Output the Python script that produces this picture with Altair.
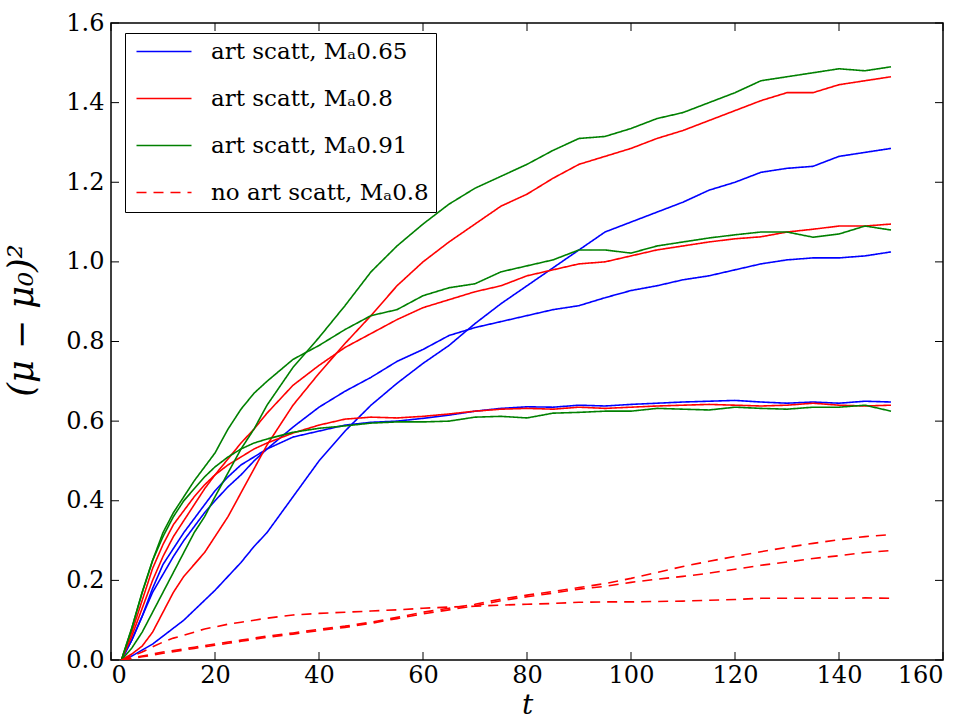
import altair as alt
import pandas as pd

# shared time grid
T = [2, 4, 6, 8, 10, 12, 14, 16, 18, 20, 22.5, 25, 27.5, 30, 35, 40, 45, 50, 55, 60,
     65, 70, 75, 80, 85, 90, 95, 100, 105, 110, 115, 120, 125, 130, 135, 140, 145, 150]

blue_a = [0, 0.05, 0.11, 0.18, 0.24, 0.28, 0.32, 0.355, 0.39, 0.425, 0.46, 0.49, 0.51, 0.53,
          0.56, 0.575, 0.59, 0.597, 0.60, 0.607, 0.615, 0.625, 0.632, 0.636, 0.635, 0.64,
          0.638, 0.642, 0.645, 0.648, 0.65, 0.652, 0.648, 0.645, 0.648, 0.645, 0.65, 0.648]
blue_b = [0, 0.05, 0.11, 0.17, 0.215, 0.26, 0.30, 0.335, 0.37, 0.40, 0.435, 0.465, 0.50, 0.53,
          0.585, 0.635, 0.675, 0.71, 0.75, 0.78, 0.815, 0.835, 0.85, 0.865, 0.88, 0.89,
          0.91, 0.928, 0.94, 0.955, 0.965, 0.98, 0.995, 1.005, 1.01, 1.01, 1.015, 1.025]
blue_c = [0, 0.01, 0.025, 0.04, 0.06, 0.08, 0.10, 0.125, 0.15, 0.175, 0.21, 0.245, 0.285, 0.32,
          0.41, 0.50, 0.575, 0.64, 0.695, 0.745, 0.79, 0.845, 0.895, 0.94, 0.985, 1.03,
          1.075, 1.10, 1.125, 1.15, 1.18, 1.20, 1.225, 1.235, 1.24, 1.265, 1.275, 1.285]

red_a = [0, 0.07, 0.15, 0.23, 0.29, 0.34, 0.375, 0.41, 0.44, 0.465, 0.49, 0.51, 0.53, 0.545,
         0.57, 0.59, 0.605, 0.61, 0.608, 0.612, 0.618, 0.625, 0.63, 0.632, 0.63, 0.635,
         0.632, 0.635, 0.638, 0.64, 0.642, 0.64, 0.638, 0.64, 0.645, 0.64, 0.638, 0.64]
red_b = [0, 0.06, 0.13, 0.20, 0.26, 0.31, 0.35, 0.39, 0.43, 0.465, 0.505, 0.545, 0.58, 0.62,
         0.69, 0.74, 0.785, 0.82, 0.855, 0.885, 0.905, 0.925, 0.94, 0.965, 0.98, 0.995,
         1.0, 1.015, 1.03, 1.04, 1.05, 1.058, 1.063, 1.075, 1.082, 1.09, 1.09, 1.095]
red_c = [0, 0.015, 0.035, 0.07, 0.12, 0.17, 0.21, 0.24, 0.27, 0.31, 0.36, 0.42, 0.48, 0.54,
         0.64, 0.72, 0.795, 0.865, 0.94, 1.0, 1.05, 1.095, 1.14, 1.17, 1.21, 1.245,
         1.265, 1.285, 1.31, 1.33, 1.355, 1.38, 1.405, 1.425, 1.425, 1.445, 1.455, 1.465]

green_a = [0, 0.08, 0.17, 0.25, 0.31, 0.36, 0.40, 0.43, 0.46, 0.485, 0.51, 0.53, 0.545, 0.555,
           0.572, 0.582, 0.588, 0.595, 0.598, 0.598, 0.60, 0.61, 0.612, 0.608, 0.62, 0.622,
           0.625, 0.625, 0.632, 0.63, 0.628, 0.635, 0.632, 0.63, 0.635, 0.635, 0.64, 0.625]
green_b = [0, 0.08, 0.17, 0.25, 0.32, 0.37, 0.41, 0.45, 0.485, 0.52, 0.58, 0.63, 0.67, 0.70,
           0.755, 0.79, 0.83, 0.865, 0.88, 0.915, 0.935, 0.945, 0.975, 0.99, 1.005, 1.03,
           1.03, 1.022, 1.04, 1.05, 1.06, 1.068, 1.075, 1.075, 1.062, 1.07, 1.09, 1.08]
green_c = [0, 0.03, 0.07, 0.12, 0.17, 0.22, 0.27, 0.32, 0.36, 0.41, 0.47, 0.53, 0.58, 0.64,
           0.735, 0.81, 0.89, 0.975, 1.04, 1.095, 1.145, 1.185, 1.215, 1.245, 1.28, 1.31,
           1.315, 1.335, 1.36, 1.375, 1.40, 1.425, 1.455, 1.465, 1.475, 1.485, 1.48, 1.49]

nodash_a = [0, 0.01, 0.02, 0.033, 0.045, 0.055, 0.062, 0.07, 0.078, 0.083, 0.09, 0.095, 0.10, 0.105,
            0.113, 0.117, 0.12, 0.123, 0.126, 0.13, 0.133, 0.135, 0.138, 0.14, 0.142, 0.145,
            0.146, 0.146, 0.147, 0.148, 0.15, 0.152, 0.155, 0.155, 0.155, 0.155, 0.156, 0.155]
nodash_b = [0, 0.005, 0.01, 0.015, 0.02, 0.024, 0.028, 0.032, 0.036, 0.04, 0.045, 0.05, 0.055, 0.06,
            0.068, 0.077, 0.085, 0.095, 0.107, 0.12, 0.13, 0.14, 0.153, 0.163, 0.172, 0.182,
            0.192, 0.205, 0.22, 0.235, 0.248, 0.26, 0.272, 0.283, 0.293, 0.302, 0.31, 0.315]
nodash_c = [0, 0.004, 0.008, 0.012, 0.017, 0.021, 0.025, 0.029, 0.033, 0.037, 0.042, 0.047, 0.052, 0.057,
            0.065, 0.074, 0.082, 0.092, 0.104, 0.116, 0.126, 0.136, 0.149, 0.159, 0.168, 0.178,
            0.185, 0.195, 0.203, 0.21, 0.218, 0.228, 0.238, 0.246, 0.255, 0.262, 0.27, 0.275]

labels = ["art scatt, Mₐ0.65", "art scatt, Mₐ0.8", "art scatt, Mₐ0.91", "no art scatt, Mₐ0.8"]
colors = ["#0000ff", "#ff0000", "#008000", "#ff0000"]
dashes = [[1, 0], [1, 0], [1, 0], [10, 7]]

x_ticks = [0, 20, 40, 60, 80, 100, 120, 140, 160]
y_ticks = [0.0, 0.2, 0.4, 0.6, 0.8, 1.0, 1.2, 1.4, 1.6]

curves = [
    ("ba", labels[0], blue_a), ("bb", labels[0], blue_b), ("bc", labels[0], blue_c),
    ("ra", labels[1], red_a), ("rb", labels[1], red_b), ("rc", labels[1], red_c),
    ("ga", labels[2], green_a), ("gb", labels[2], green_b), ("gc", labels[2], green_c),
    ("da", labels[3], nodash_a), ("db", labels[3], nodash_b), ("dc", labels[3], nodash_c),
]
rows = []
for cid, ser, vals in curves:
    for t, v in zip(T, vals):
        rows.append({"t": t, "value": v, "curve": cid, "series": ser})
df = pd.DataFrame(rows)

W, H = 832, 637
FONT = "DejaVu Serif"

xs = alt.X("t:Q", scale=alt.Scale(domain=[0, 160], nice=False, zero=False),
           axis=alt.Axis(values=x_ticks, format="d", title="t", titleFontStyle="italic",
                         titleFontSize=28, titleBaseline="bottom", titleY=59,
                         labelPadding=3))
ys = alt.Y("value:Q", scale=alt.Scale(domain=[0, 1.6], nice=False),
           axis=alt.Axis(values=y_ticks, format=".1f", title="(μ − μ₀)²",
                         titleFontStyle="italic", titleFontSize=35,
                         titleX=-72, titleY=297, labelPadding=7))

lines = alt.Chart(df).mark_line(strokeWidth=1.6, clip=True).encode(
    x=xs, y=ys,
    color=alt.Color("series:N", scale=alt.Scale(domain=labels, range=colors),
                    legend=alt.Legend(title=None)),
    strokeDash=alt.StrokeDash("series:N", scale=alt.Scale(domain=labels, range=dashes),
                              legend=alt.Legend(title=None)),
    detail="curve:N",
)

xt = pd.DataFrame({"t": x_ticks})
yt = pd.DataFrame({"value": y_ticks})
tick_x_bottom = alt.Chart(xt).mark_rule(color="black", strokeWidth=1).encode(
    x=alt.X("t:Q"), y=alt.value(H), y2=alt.value(H - 8))
tick_x_top = alt.Chart(xt).mark_rule(color="black", strokeWidth=1).encode(
    x=alt.X("t:Q"), y=alt.value(0), y2=alt.value(8))
tick_y_left = alt.Chart(yt).mark_rule(color="black", strokeWidth=1).encode(
    y=alt.Y("value:Q"), x=alt.value(0), x2=alt.value(8))
tick_y_right = alt.Chart(yt).mark_rule(color="black", strokeWidth=1).encode(
    y=alt.Y("value:Q"), x=alt.value(W - 8), x2=alt.value(W))

chart = alt.layer(lines, tick_x_bottom, tick_x_top, tick_y_left, tick_y_right).properties(
    width=W, height=H,
    autosize=alt.AutoSizeParams(type="none"),
    padding={"left": 111, "top": 23, "right": 14, "bottom": 62},
).configure_view(
    stroke="black", strokeWidth=1.5
).configure_axis(
    ticks=False, domain=False, grid=False,
    labelFont=FONT, labelFontSize=24, labelColor="black",
    titleFont=FONT, titleColor="black", titleFontWeight="normal",
).configure_legend(
    orient="none", legendX=14, legendY=10,
    strokeColor="black", fillColor="white", padding=7,
    symbolType="M-0.7,0H4.8", symbolSize=400, symbolStrokeWidth=1.6,
    labelFont=FONT, labelFontSize=23, labelColor="black", labelOffset=56,
    rowPadding=23, labelLimit=400,
)

chart.save("out.html", embed_options={"renderer": "svg", "actions": False})
